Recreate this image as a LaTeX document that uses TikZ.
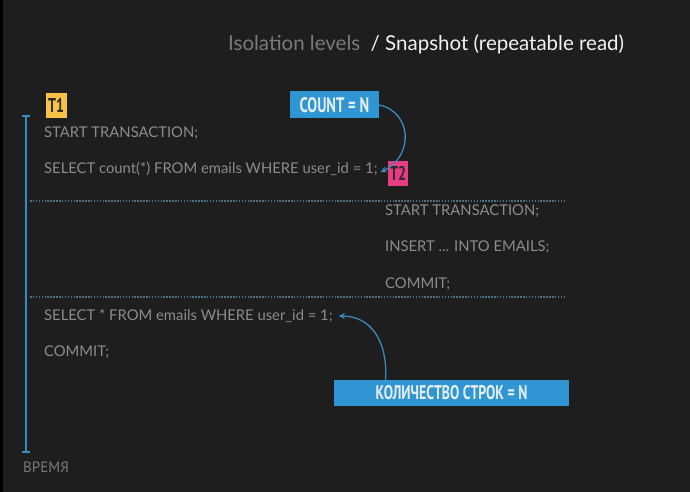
\documentclass[tikz,border=0pt]{standalone}
\usepackage{fontspec}
\setmainfont{Lato}
\newfontfamily\cyrfont{PT Sans}
\newfontfamily\condfont[FakeStretch=0.7]{PT Sans}
\usetikzlibrary{arrows.meta}
\definecolor{bg}{HTML}{1E1E1E}
\definecolor{tagtext}{HTML}{2A2A2A}
\definecolor{codegray}{HTML}{8C8C8C}
\definecolor{titlegray}{HTML}{7A7A7A}
\definecolor{titlewhite}{HTML}{F2F2F2}
\definecolor{boxblue}{HTML}{2F96D3}
\definecolor{lineblue}{HTML}{3A8AC0}
\definecolor{dotblue}{HTML}{4F6F86}
\definecolor{tyellow}{HTML}{F7C245}
\definecolor{tpink}{HTML}{E93D82}
\definecolor{labelwhite}{HTML}{E6EEF4}
\tikzset{
  code/.style={anchor=west, inner sep=0pt, text=codegray, font=\fontsize{14.8}{16}\selectfont},
  bluebox/.style={fill=boxblue, inner sep=0pt, text=labelwhite, font=\condfont\bfseries\fontsize{21}{22}\selectfont},
  tagbox/.style={minimum height=25pt, inner sep=0pt, text=tagtext, font=\condfont\bfseries\fontsize{20}{22}\selectfont},
  divider/.style={dotblue, line width=1.6pt, dash pattern=on 1.5pt off 1.4pt},
  callout/.style={lineblue, line width=1.3pt, -{Stealth[length=6pt,width=6pt]}},
}
\begin{document}
\begin{tikzpicture}[x=1pt,y=-1pt]
\fill[bg] (0,0) rectangle (690,492);
\fill[black] (0,0) rectangle (3,492);
\useasboundingbox (0,0) rectangle (690,492);

% title
\node[anchor=west, inner sep=0pt, font=\fontsize{20.5}{22}\selectfont] (title) at (228,44)
  {\textcolor{titlegray}{Isolation levels}\ \ \textcolor{titlewhite}{/ Snapshot (repeatable read)}};

% timeline
\coordinate (tltop) at (26,116);
\coordinate (tlbot) at (26,452);
\draw[lineblue, line width=2.2pt] (tltop) -- (tlbot);
\draw[lineblue, line width=2pt] ([xshift=-4pt]tltop) -- ([xshift=4pt]tltop);
\draw[lineblue, line width=2pt] ([xshift=-4pt]tlbot) -- ([xshift=4pt]tlbot);
\node[anchor=west, inner sep=0pt, text=titlegray, font=\cyrfont\fontsize{15}{16}\selectfont] (vremya) at (23,467) {ВРЕМЯ};

% T1 tag
\node[tagbox, fill=tyellow, minimum width=21pt] (t1) at (56,105.5) {T1};

% T1 code
\node[code] (s1) at (44,133) {START TRANSACTION;};
\node[code] (s2) at (44,169) {SELECT count(*) FROM emails WHERE user\_id = 1;};

% T2 tag
\node[tagbox, fill=tpink, minimum width=20pt] (t2) at (398,173.5) {T2};

% COUNT box
\node[bluebox, minimum width=89pt, minimum height=27pt] (count) at (334.5,105) {COUNT = N};

% dividers
\coordinate (d1a) at (30,201);
\coordinate (d1b) at (565,201);
\coordinate (d2a) at (30,297);
\coordinate (d2b) at (565,297);
\draw[divider] (d1a) -- (d1b);
\draw[divider] (d2a) -- (d2b);

% T2 code
\node[code] (u1) at (385,211) {START TRANSACTION;};
\node[code] (u2) at (385,247) {INSERT ... INTO EMAILS;};
\node[code] (u3) at (385,284) {COMMIT;};

% T1 code after
\node[code] (s3) at (44,316) {SELECT * FROM emails WHERE user\_id = 1;};
\node[code] (s4) at (44,352) {COMMIT;};

% rows box
\node[bluebox, minimum width=235pt, minimum height=26pt, font=\condfont\bfseries\fontsize{19.8}{21}\selectfont] (rows) at (451.5,393) {КОЛИЧЕСТВО СТРОК = N};

% callouts
\draw[callout] (count.east) .. controls (412,112) and (414,156) .. ([xshift=3pt,yshift=-3pt]s2.east);
\draw[callout] ([xshift=-66pt]rows.north) .. controls (388,340) and (370,316) .. ([xshift=6pt]s3.east);
\end{tikzpicture}
\end{document}
